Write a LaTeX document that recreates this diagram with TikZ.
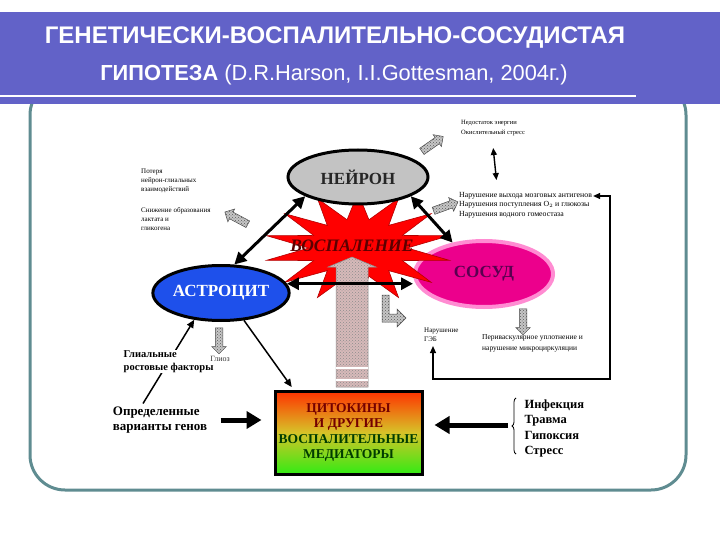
\documentclass[tikz,border=0pt]{standalone}
\usepackage{fontspec}
\setmainfont{Liberation Serif}
\newfontfamily\titlefont{Liberation Sans}
\usetikzlibrary{shapes.geometric,shapes.arrows,arrows.meta,patterns,decorations.pathreplacing}
\definecolor{bandeau}{RGB}{98,98,200}
\definecolor{cadre}{RGB}{95,140,145}
\definecolor{grisneurone}{RGB}{195,195,195}
\definecolor{bleuastro}{RGB}{30,80,235}
\definecolor{rosevaisseau}{RGB}{255,140,210}
\definecolor{violetfonce}{RGB}{90,0,80}
\definecolor{bordeaux}{RGB}{115,0,0}
\definecolor{vertfonce}{RGB}{0,60,0}
\definecolor{rosegris}{RGB}{215,185,185}
\definecolor{boxhaut}{RGB}{255,50,0}
\definecolor{boxmilieu}{RGB}{215,195,40}
\definecolor{boxbas}{RGB}{50,235,20}

\begin{document}
\begin{tikzpicture}[x=1pt,y=-1pt]
\tikzset{cellule/.style={ellipse, draw=black, line width=3pt, inner sep=0pt, font=\bfseries\fontsize{17}{17}\selectfont},
  eclat/.style={star, star points=14, star point ratio=1.9, minimum size=110pt, inner sep=0pt, fill=red, draw=red!70!black, line width=0.6pt, xscale=1.7, transform shape},
  fleche/.style={line width=3pt, {Triangle[length=12pt,width=12pt]}-{Triangle[length=12pt,width=12pt]}},
  grossefleche/.style={line width=5pt, -{Triangle[length=15pt,width=17pt]}},
  mince/.style={line width=1.5pt, -{Triangle[length=8pt,width=7pt]}},
  boucle/.style={line width=1.2pt, {Triangle[length=7pt,width=6pt]}-{Triangle[length=7pt,width=6pt]}},
  petitefleche/.style={single arrow, draw=black!70, line width=0.5pt, preaction={fill=gray!45}, pattern=crosshatch dots, pattern color=black!65, minimum height=26pt, inner sep=3.5pt, single arrow head extend=3.5pt},
  petit/.style={align=left, anchor=north west, inner sep=1pt, font=\fontsize{7}{9}\selectfont},
  moyen/.style={align=left, font=\bfseries\fontsize{13}{14.5}\selectfont},
  boite/.style={draw=black, line width=3pt, minimum width=147pt, minimum height=83pt, top color=boxhaut, bottom color=boxbas, middle color=boxmilieu, align=center, inner sep=0pt, font=\bfseries\fontsize{13.5}{15.5}\selectfont},
  titre/.style={text=white, font=\titlefont\bfseries\fontsize{24}{26}\selectfont}}
\useasboundingbox (0,0) rectangle (720,540);
% cadre et bandeau du titre
\draw[cadre, line width=3pt, rounded corners=35pt] (30,80) rectangle (686,490);
\fill[bandeau] (0,12) rectangle (720,104);
\draw[white, line width=2pt] (0,96) -- (636,96);
\node[titre] (titre1) at (335,38) {ГЕНЕТИЧЕСКИ-ВОСПАЛИТЕЛЬНО-СОСУДИСТАЯ};
\node[titre, font=\titlefont\bfseries\fontsize{21.8}{26}\selectfont] (titre2) at (334,75) {ГИПОТЕЗА \mdseries(D.R.Harson, I.I.Gottesman, 2004г.)};
% les trois cellules et le foyer
\node[cellule, fill=magenta, draw=rosevaisseau, line width=4pt, minimum width=138pt, minimum height=66pt, text=violetfonce] (vaisseau) at (484,274) {СОСУД};
\node[eclat] (foyer) at (358,248) {};
\node[font=\bfseries\itshape\fontsize{17.5}{17.5}\selectfont, text=bordeaux!80!black] (inflammation) at (352,246) {ВОСПАЛЕНИЕ};
\node[cellule, fill=grisneurone, minimum width=140pt, minimum height=54pt, text=black!85] (neurone) at (358,177) {НЕЙРОН};
\node[cellule, fill=bleuastro, minimum width=108pt, minimum height=55pt, text=white] (astro) at (221,293) {АСТРОЦИТ};
\node[boite] (mediateurs) at (348.5,432.5) {\textcolor{bordeaux}{ЦИТОКИНЫ}\\\textcolor{bordeaux}{И ДРУГИЕ}\\\textcolor{vertfonce}{ВОСПАЛИТЕЛЬНЫЕ}\\\textcolor{vertfonce}{МЕДИАТОРЫ}};
% grande fleche vers le foyer
\filldraw[draw=black!45, line width=0.5pt, preaction={fill=rosegris}, pattern=crosshatch dots, pattern color=black!45] (336,387) -- (336,267) -- (328,267) -- (352,257) -- (376,267) -- (368,267) -- (368,387) -- cycle;
\draw[white, line width=2pt] (336,368) -- (368,368);
\draw[white, line width=2pt] (336,380) -- (368,380);
% liaisons
\draw[fleche] (neurone.200) -- (astro.65);
\draw[fleche] (neurone.340) -- (vaisseau.135);
\draw[fleche] (astro.8) -- (astro.8 -| vaisseau.west);
\draw[mince, shorten >=3pt] (astro.-50) -- ([xshift=20pt]mediateurs.north west);
% textes
\node[petit] (perte) at (140,168) {Потеря\\нейрон-глиальных\\взаимодействий};
\node[petit] (baisse) at (140,206) {Снижение образования\\лактата и\\гликогена};
\node[petit, font=\fontsize{6.5}{10}\selectfont] (energie) at (460,119) {Недостаток энергии\\Окислительный стресс};
\node[petit, font=\fontsize{7.8}{9.5}\selectfont] (troubles) at (458,191) {Нарушение выхода мозговых антигенов\\Нарушения поступления O$_2$ и глюкозы\\Нарушения водного гомеостаза};
\node[petit] (heb) at (423,327) {Нарушение\\ГЭБ};
\node[petit, font=\fontsize{7.5}{11}\selectfont] (perivasc) at (481,333) {Периваскулярное уплотнение и\\нарушение микроциркуляции};
\node[moyen] (genes) at (160,420) {Определенные\\варианты генов};
\node[moyen, anchor=north west, font=\bfseries\fontsize{12.5}{15.5}\selectfont] (agents) at (521,396) {Инфекция\\Травма\\Гипоксия\\Стресс};
\draw[line width=0.8pt, decoration={brace, amplitude=4pt}, decorate] (516,454) -- (516,398);
\coordinate (accolade) at (508,425);
% petites fleches hachurees
\node[petitefleche, rotate=35] (f1) at (431,145) {};
\node[petitefleche, rotate=152] (f2) at (238,219) {};
\node[petitefleche, rotate=20] (f3) at (444,207) {};
\node[petitefleche, rotate=-90] (f4) at (219,339) {};
\node[petitefleche, rotate=-90] (f5) at (523,320) {};
\filldraw[draw=black!70, line width=0.5pt, preaction={fill=gray!45}, pattern=crosshatch dots, pattern color=black!65] (382,295) -- (389,295) -- (389,314) -- (397,314) -- (397,309) -- (406,318) -- (397,327) -- (397,322) -- (382,322) -- cycle;
% fleches fines et grosses fleches
\draw[line width=1.4pt, {Triangle[length=7pt,width=6pt]}-{Triangle[length=7pt,width=6pt]}, shorten <=11pt, shorten >=11pt] ([xshift=-1pt]energie.south) -- ([xshift=-28pt]troubles.north);
\draw[boucle, shorten <=3pt] ([xshift=10pt]heb.south west) |- (610,379) |- ([yshift=-5pt]troubles.north east);
\draw[line width=1.5pt, -{Triangle[length=8pt,width=7pt]}] ([xshift=-17pt]genes.north) -- node[fill=white, inner sep=1pt, align=left, font=\bfseries\fontsize{10.5}{12.5}\selectfont] (facteurs) {Глиальные\\ростовые факторы} (astro.225);
\node[font=\fontsize{8}{9}\selectfont, text=black!80] (gliose) at (220,359) {Глиоз};
\draw[grossefleche, shorten <=10pt, shorten >=12pt] (genes.east) -- (genes.east -| mediateurs.west);
\draw[grossefleche, shorten >=11pt] (accolade) -- (accolade -| mediateurs.east);
\end{tikzpicture}
\end{document}
